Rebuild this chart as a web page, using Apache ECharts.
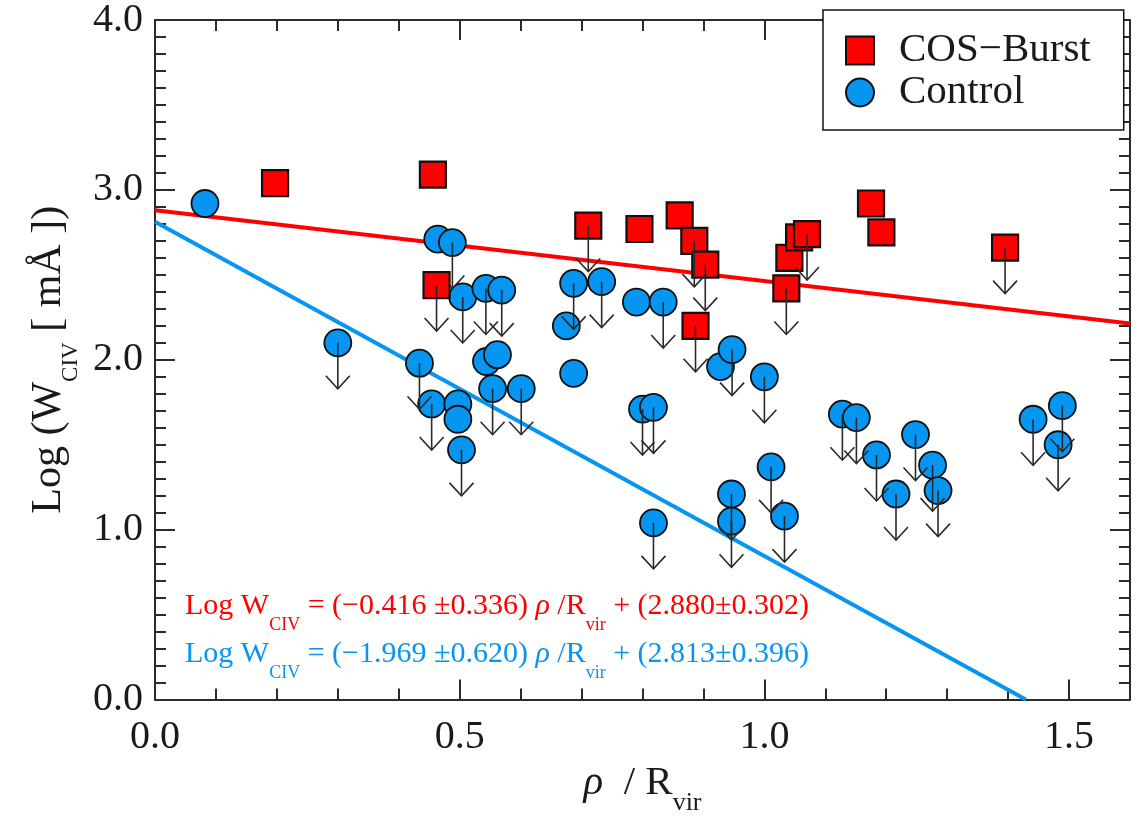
<!DOCTYPE html>
<html>
<head>
<meta charset="utf-8">
<script src="https://cdn.jsdelivr.net/npm/echarts@6/dist/echarts.min.js"></script>
<style>
html,body{margin:0;padding:0;background:#fff;}
#chart{width:1140px;height:821px;}
</style>
</head>
<body>
<div id="chart"></div>
<script>
// ---- data ----
const burstX = [0.197, 0.456, 0.462, 0.711, 0.795, 0.861, 0.885, 0.903, 0.887, 1.036, 1.041, 1.057, 1.070, 1.175, 1.192, 1.395];
const burstY = [3.04, 3.09, 2.44, 2.79, 2.77, 2.85, 2.70, 2.56, 2.20, 2.42, 2.60, 2.72, 2.74, 2.92, 2.75, 2.66];
const burstLimit = [0, 0, 1, 1, 0, 0, 1, 1, 1, 1, 0, 0, 1, 0, 0, 1];

const controlX = [0.082, 0.300, 0.434, 0.454, 0.464, 0.488, 0.497, 0.497, 0.503, 0.505, 0.543, 0.569, 0.544, 0.562,
  0.554, 0.601, 0.675, 0.687, 0.733, 0.687, 0.790, 0.834, 0.800, 0.818, 0.818, 0.928, 0.947, 1.000, 0.946, 0.946,
  1.011, 1.033, 1.128, 1.151, 1.184, 1.248, 1.216, 1.276, 1.285, 1.441, 1.489, 1.482];
const controlY = [2.92, 2.10, 1.98, 1.74, 2.71, 2.69, 1.74, 1.65, 1.47, 2.37, 2.42, 2.41, 1.99, 2.03,
  1.83, 1.83, 2.20, 2.45, 2.46, 1.92, 2.34, 2.34, 1.71, 1.72, 1.04, 1.96, 2.06, 1.90, 1.21, 1.05,
  1.37, 1.08, 1.68, 1.66, 1.44, 1.56, 1.21, 1.38, 1.23, 1.65, 1.73, 1.50];
const controlLimit = [0, 1, 1, 1, 0, 1, 0, 0, 1, 1, 1, 1, 0, 0,
  1, 1, 0, 1, 1, 0, 0, 1, 1, 1, 1, 0, 1, 1, 1, 1,
  1, 1, 1, 1, 1, 1, 1, 1, 1, 1, 1, 1];

const burstFitX = [0.0, 1.6];
const burstFitY = [2.880, 2.214];
const controlFitX = [0.0, 1.429];
const controlFitY = [2.813, 0.0];

const xTicks = ['0.0', '0.5', '1.0', '1.5'];
const yTicks = ['0.0', '1.0', '2.0', '3.0', '4.0'];

const burstEq = ['Log W', 'CIV', ' = (\u22120.416 \u00b10.336) ', '\u03c1', ' /R', 'vir', ' + (2.880\u00b10.302)'];
const controlEq = ['Log W', 'CIV', ' = (\u22121.969 \u00b10.620) ', '\u03c1', ' /R', 'vir', ' + (2.813\u00b10.396)'];

// ---- build ----
const RED = '#ff0000';
const BLUE = '#0795f2';
const SERIF = 'Liberation Serif';

function pairs(xs, ys) { return xs.map((x, i) => [x, ys[i]]); }
function limits(xs, ys, fl) { return xs.map((x, i) => [x, ys[i], fl[i]]).filter(d => d[2] === 1); }

function arrowRender(params, api) {
  const p = api.coord([api.value(0), api.value(1)]);
  const len = 46, hw = 12, hh = 13;
  const tip = [p[0], p[1] + len];
  const st = { stroke: '#2a2a2a', lineWidth: 1.6, fill: null };
  return {
    type: 'group',
    children: [
      { type: 'line', shape: { x1: p[0], y1: p[1], x2: tip[0], y2: tip[1] }, style: st },
      { type: 'polyline', shape: { points: [[tip[0] - hw, tip[1] - hh], tip, [tip[0] + hw, tip[1] - hh]] }, style: st }
    ]
  };
}

function eqText(parts) {
  return '{m|' + parts[0] + '}{s|' + parts[1] + '}{m|' + parts[2] + '}{r|' + parts[3] + '}{m|' + parts[4] + '}{s|' + parts[5] + '}{m|' + parts[6] + '}';
}
function eqRich(color) {
  return {
    m: { fontFamily: SERIF, fontSize: 30, fill: color, color: color },
    r: { fontFamily: SERIF, fontSize: 30, fontStyle: 'italic', fill: color, color: color },
    s: { fontFamily: SERIF, fontSize: 18, fill: color, color: color, padding: [38, 0, 0, 0] }
  };
}

const axisLineStyle = { color: '#2b2b2b', width: 2 };
const fmtX = v => { const k = v / 0.5; return Math.abs(k - Math.round(k)) < 1e-6 ? xTicks[Math.round(k)] : ''; };
const fmtY = v => { const k = Math.round(v); return Math.abs(v - k) < 1e-6 ? yTicks[k] : ''; };

function xAxisDef(pos, showLabel) {
  return {
    type: 'value', position: pos, min: 0, max: 1.6, interval: 0.5,
    axisLine: { show: true, onZero: false, lineStyle: axisLineStyle },
    axisTick: { show: true, inside: true, length: 20, lineStyle: axisLineStyle },
    minorTick: { show: true, splitNumber: 5, length: 11, lineStyle: { color: '#2b2b2b', width: 2 } },
    splitLine: { show: false }, minorSplitLine: { show: false },
    axisLabel: { show: showLabel, formatter: fmtX, fontFamily: SERIF, fontSize: 40, color: '#1a1a1a', margin: 18 }
  };
}
function yAxisDef(pos, showLabel) {
  return {
    type: 'value', position: pos, min: 0, max: 4, interval: 1,
    axisLine: { show: true, onZero: false, lineStyle: axisLineStyle },
    axisTick: { show: true, inside: true, length: 20, lineStyle: axisLineStyle },
    minorTick: { show: true, splitNumber: 10, length: 11, lineStyle: { color: '#2b2b2b', width: 2 } },
    splitLine: { show: false }, minorSplitLine: { show: false },
    axisLabel: { show: showLabel, formatter: fmtY, fontFamily: SERIF, fontSize: 40, color: '#1a1a1a', margin: 12 }
  };
}

const xMain = xAxisDef('bottom', true);
xMain.name = '{r|\u03c1}{m|  / R}{s|vir}';
xMain.nameLocation = 'middle';
xMain.nameGap = 50;
xMain.nameTextStyle = {
  rich: {
    m: { fontFamily: SERIF, fontSize: 41, color: '#1a1a1a' },
    r: { fontFamily: SERIF, fontSize: 41, fontStyle: 'italic', color: '#1a1a1a' },
    s: { fontFamily: SERIF, fontSize: 26, color: '#1a1a1a', padding: [40, 0, 0, 0] }
  }
};
const yMain = yAxisDef('left', true);
yMain.name = '{m|Log (W}{s|CIV}{m| [ m\u00c5 ])}';
yMain.nameLocation = 'middle';
yMain.nameGap = 72;
yMain.nameTextStyle = {
  rich: {
    m: { fontFamily: SERIF, fontSize: 42, color: '#1a1a1a' },
    s: { fontFamily: SERIF, fontSize: 23, color: '#1a1a1a', padding: [44, 0, 0, 0] }
  }
};

const chart = echarts.init(document.getElementById('chart'), null, { renderer: 'canvas' });
chart.setOption({
  backgroundColor: '#ffffff',
  animation: false,
  grid: { left: 155, right: 10, top: 11, bottom: 120, containLabel: false },
  xAxis: [xMain, xAxisDef('top', false)],
  yAxis: [yMain, yAxisDef('right', false)],
  legend: {
    orient: 'vertical', left: 823, top: 10,
    data: ['COS\u2212Burst', 'Control'],
    itemWidth: 28, itemHeight: 28, itemGap: 1,
    padding: [20, 33, 17, 22],
    borderColor: '#111', borderWidth: 1.5, backgroundColor: '#ffffff',
    textStyle: { fontFamily: SERIF, fontSize: 41, color: '#1a1a1a', padding: [0, 0, 0, 20] },
    z: 10
  },
  graphic: [
    { type: 'text', left: 185, top: 591, z: 5, style: { text: eqText(burstEq), rich: eqRich(RED), fill: RED } },
    { type: 'text', left: 185, top: 639, z: 5, style: { text: eqText(controlEq), rich: eqRich(BLUE), fill: BLUE } }
  ],
  series: [
    { type: 'line', data: pairs(burstFitX, burstFitY), symbol: 'none', lineStyle: { color: RED, width: 4 }, z: 1, silent: true },
    { type: 'line', data: pairs(controlFitX, controlFitY), symbol: 'none', lineStyle: { color: BLUE, width: 4 }, z: 1, silent: true },
    { name: 'Control', type: 'scatter', data: pairs(controlX, controlY), symbol: 'circle', symbolSize: 27,
      itemStyle: { color: BLUE, borderColor: '#111', borderWidth: 1.8, opacity: 1 }, z: 2 },
    { type: 'custom', data: limits(controlX, controlY, controlLimit), renderItem: arrowRender, z: 3, silent: true },
    { name: 'COS\u2212Burst', type: 'scatter', data: pairs(burstX, burstY), symbol: 'rect', symbolSize: 26,
      itemStyle: { color: RED, borderColor: '#111', borderWidth: 2.2, opacity: 1 }, z: 4 },
    { type: 'custom', data: limits(burstX, burstY, burstLimit), renderItem: arrowRender, z: 5, silent: true }
  ]
});
</script>
</body>
</html>
